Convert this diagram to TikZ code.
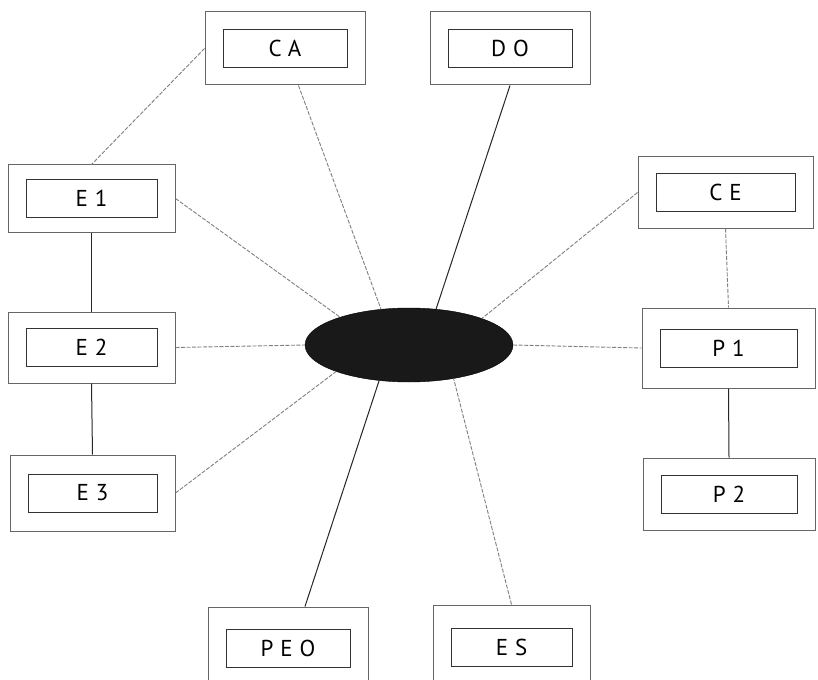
\documentclass[tikz,border=0pt]{standalone}
\usepackage{fontspec}
\newfontfamily\boxfont[LetterSpace=30]{PT Sans}
\usetikzlibrary{shapes.geometric}

\begin{document}
\begin{tikzpicture}[x=1pt, y=-1pt,
  font=\boxfont\fontsize{23}{26}\selectfont,
  outer/.style={draw=black!60, line width=1pt, inner sep=0pt},
  inner/.style={draw=black!80, line width=1pt, inner sep=0pt, text=black},
  hubnode/.style={ellipse, fill=black!90, draw=black, inner sep=0pt,
                  minimum width=208, minimum height=74},
  faint/.style={draw=black!50, line width=0.9pt, dash pattern=on 4pt off 1.5pt},
  dark/.style={draw=black!85, line width=1pt}]
  \useasboundingbox (0,0) rectangle (818,679);
  \fill[white] (0,0) rectangle (818,679);
  % boxes: name / x / y / width / height / label
  \foreach \n/\x/\y/\w/\h/\t in {
      ca/285/48.5/160/73/CA, do/510/48.5/160/73/DO,
      e1/91.5/198.5/167/67/E1, e2/91.5/347.5/167/71/E2, e3/92.5/493/165/76/E3,
      ce/725.5/192.5/175/71/CE, p1/728.5/348/173/80/P1, p2/729/494/172/72/P2,
      peo/288/648.5/160/83/PEO, es/511.5/647.5/157/85/ES} {
    \node[outer, minimum width=\w, minimum height=\h] (\n) at (\x,\y) {};
    \pgfmathsetmacro\iw{\w-36}
    \node[inner, minimum width=\iw, minimum height=38] (\n-in) at (\n) {\t};
  }
  \node[hubnode] (hub) at (409,345) {};
  % links to the hub
  \draw[faint] (ca.-70) -- (hub.128);
  \draw[dark]  (do.south) -- (hub.53);
  \draw[faint] (e1.east) -- (hub.158);
  \draw[faint] (ce.west) -- (hub.20);
  \draw[faint] (e2.east) -- (hub.west);
  \draw[faint] (hub.east) -- (p1.west);
  \draw[faint] (e3.east) -- (hub.200);
  \draw[dark]  (peo.68) -- (hub.230);
  \draw[faint] (es.north) -- (hub.-37);
  % chains
  \draw[faint] (ca.west) -- (e1.north);
  \draw[dark]  (e1.south) -- (e2.north);
  \draw[dark]  (e2.south) -- (e3.north);
  \draw[faint] (ce.south) -- (p1.north);
  \draw[dark]  (p1.south) -- (p2.north);
\end{tikzpicture}
\end{document}
